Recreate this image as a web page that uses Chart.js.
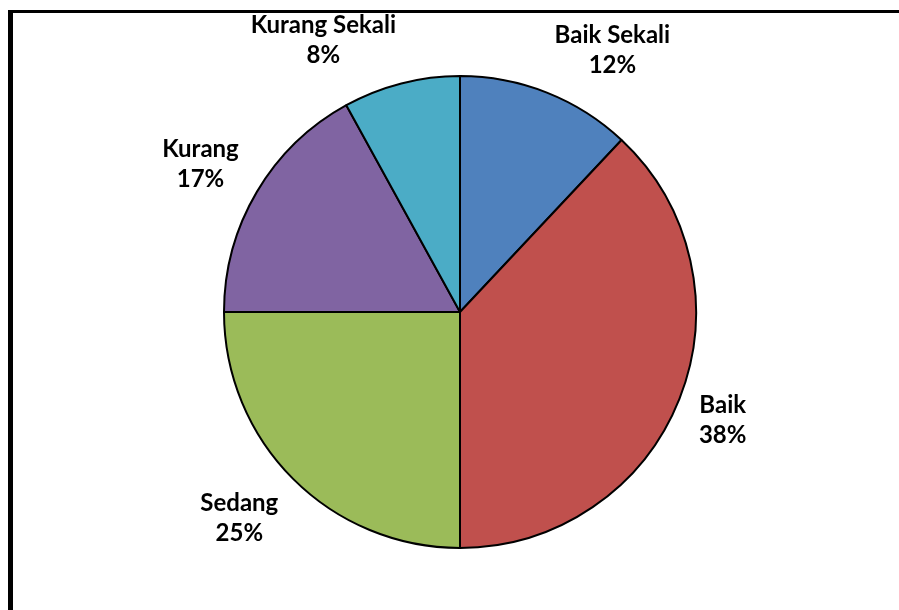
<!DOCTYPE html>
<html>
<head>
<meta charset="utf-8">
<script src="https://cdn.jsdelivr.net/npm/chart.js@4.4.1/dist/chart.umd.min.js"></script>
<style>
  html, body { margin: 0; padding: 0; background: #fff; }
  #wrap { position: relative; width: 899px; height: 610px; }
</style>
</head>
<body>
<div id="wrap"><canvas id="c" width="899" height="610"></canvas></div>
<script>
const categories = ['Baik Sekali', 'Baik', 'Sedang', 'Kurang', 'Kurang Sekali'];
const values = [12, 38, 25, 17, 8];
const colors = ['#4F81BD', '#C0504D', '#9BBB59', '#8064A2', '#4BACC6'];

const FONT_SIZE = 24;
const FONT = `bold ${FONT_SIZE}px Lato, "Open Sans", sans-serif`;
const LINE_GAP = 30;
const CAP_H = 17;
const GAP = 21;

const framePlugin = {
  id: 'frame',
  beforeDraw(chart) {
    const ctx = chart.ctx;
    ctx.save();
    ctx.fillStyle = '#fff';
    ctx.fillRect(0, 0, chart.width, chart.height);
    ctx.fillStyle = '#000';
    ctx.fillRect(8, 10, chart.width - 8, 3);
    ctx.fillRect(8, 10, 5, chart.height - 10);
    ctx.restore();
  }
};

const labelPlugin = {
  id: 'outLabels',
  afterDatasetsDraw(chart) {
    const ctx = chart.ctx;
    const meta = chart.getDatasetMeta(0);
    const total = values.reduce((a, b) => a + b, 0);
    ctx.save();
    ctx.font = FONT;
    ctx.fillStyle = '#000';
    ctx.textAlign = 'center';
    ctx.textBaseline = 'alphabetic';
    const clamp = (v, lo, hi) => Math.max(lo, Math.min(hi, v));
    meta.data.forEach((arc, i) => {
      const p0 = arc.getProps(['x', 'y', 'startAngle', 'endAngle', 'outerRadius'], true);
      const cx = p0.x, cy = p0.y, R = p0.outerRadius;
      const lines = [categories[i], Math.round(values[i] / total * 100) + '%'];
      const w = Math.max(...lines.map(l => ctx.measureText(l).width));
      const h = CAP_H + LINE_GAP;
      const a = (p0.startAngle + p0.endAngle) / 2;
      const ux = Math.cos(a), uy = Math.sin(a);
      const ax = cx + ux * (R + GAP), ay = cy + uy * (R + GAP);
      const bx = ax + clamp(ux * 5, -1, 1) * w / 2;
      const by = ay + clamp(uy * 1.5, -1, 1) * h / 2;
      ctx.fillText(lines[0], bx, by - h / 2 + CAP_H);
      ctx.fillText(lines[1], bx, by + h / 2);
    });
    ctx.restore();
  }
};

new Chart(document.getElementById('c'), {
  type: 'pie',
  data: {
    labels: categories,
    datasets: [{
      data: values,
      backgroundColor: colors,
      borderColor: '#000',
      borderWidth: 2
    }]
  },
  options: {
    responsive: false,
    animation: false,
    layout: { padding: { left: 223, right: 202, top: 75, bottom: 61 } },
    plugins: {
      legend: { display: false },
      tooltip: { enabled: false }
    }
  },
  plugins: [framePlugin, labelPlugin]
});
</script>
</body>
</html>
